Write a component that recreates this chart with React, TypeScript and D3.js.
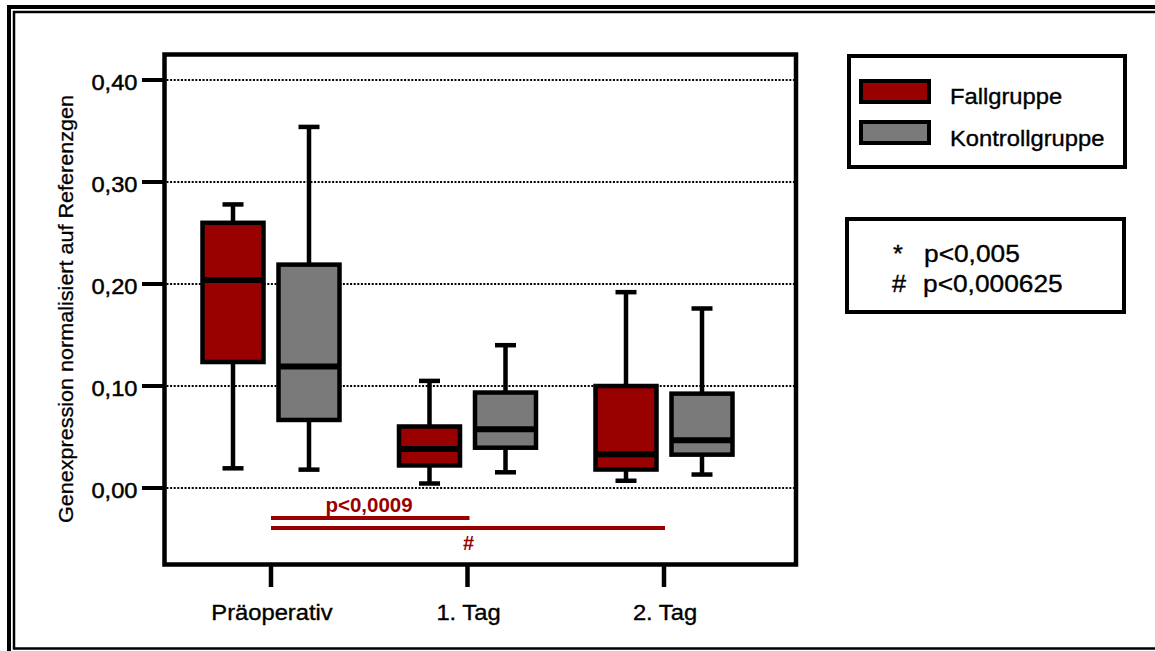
import React from "react";
import * as d3 from "d3";

// Zeitpunkte und Gruppen
const timepoints = ["Präoperativ", "1. Tag", "2. Tag"];
const groups = ["Fallgruppe", "Kontrollgruppe"];

// Boxplot-Kennwerte je Gruppe: [min, q1, median, q3, max] pro Zeitpunkt
const fallMin = [0.0193, 0.0044, 0.0071];
const fallQ1 = [0.1235, 0.0221, 0.0181];
const fallMedian = [0.204, 0.0382, 0.0331];
const fallQ3 = [0.26, 0.0603, 0.1];
const fallMax = [0.278, 0.105, 0.192];

const kontrollMin = [0.018, 0.0154, 0.0132];
const kontrollQ1 = [0.0667, 0.0395, 0.0327];
const kontrollMedian = [0.119, 0.0575, 0.0467];
const kontrollQ3 = [0.219, 0.0936, 0.0925];
const kontrollMax = [0.354, 0.14, 0.176];

const yTicks = [0, 0.1, 0.2, 0.3, 0.4];
const yTickLabels = ["0,00", "0,10", "0,20", "0,30", "0,40"];

const colors: Record<string, string> = {
  Fallgruppe: "#990000",
  Kontrollgruppe: "#7a7a7a",
};
const sigColor = "#990000";
const FONT = "'Liberation Sans', Arial, Helvetica, sans-serif";

type Stat = { min: number; q1: number; med: number; q3: number; max: number };

const stats: Record<string, Stat[]> = {
  Fallgruppe: timepoints.map((_, i) => ({
    min: fallMin[i], q1: fallQ1[i], med: fallMedian[i], q3: fallQ3[i], max: fallMax[i],
  })),
  Kontrollgruppe: timepoints.map((_, i) => ({
    min: kontrollMin[i], q1: kontrollQ1[i], med: kontrollMedian[i], q3: kontrollQ3[i], max: kontrollMax[i],
  })),
};

// Text mit leichter horizontaler Streckung und etwas kräftigerer Kontur
function Txt(props: {
  x: number; y: number; size: number; sx?: number; anchor?: string;
  fill?: string; weight?: string | number; halo?: number; children: React.ReactNode;
}) {
  const { x, y, size, sx = 1, anchor = "start", fill = "#000", weight = "normal", halo = 0.35, children } = props;
  return (
    <text
      transform={`translate(${x},${y}) scale(${sx},1)`}
      fontSize={size}
      fontFamily={FONT}
      textAnchor={anchor}
      fill={fill}
      stroke={fill}
      strokeWidth={halo}
      fontWeight={weight}
    >
      {children}
    </text>
  );
}

export default function App() {
  const W = 1155;
  const H = 651;
  const frame = { left: 164.5, right: 796, top: 54.5, bottom: 564.5 };

  const y = d3.scaleLinear().domain([-0.075, 0.425]).range([frame.bottom, frame.top]);
  const x = d3.scalePoint<string>().domain(timepoints).range([271, 664]);
  const offset = d3.scalePoint<string>().domain(groups).range([-38, 38]);
  const boxW = 61;
  const capW = 21;

  return (
    <svg
      width={W}
      height={H}
      viewBox={`0 0 ${W} ${H}`}
      style={{ position: "absolute", left: 0, top: 0, display: "block", background: "#fff" }}
    >
      <rect x={0} y={0} width={W} height={H} fill="#fff" />
      {/* doppelter Rahmen */}
      <rect x={9} y={7} width={W + 10} height={H + 10} fill="none" stroke="#000" strokeWidth={4} />
      <rect x={14} y={12} width={W + 10} height={636.5} fill="none" stroke="#000" strokeWidth={2.5} />

      {/* Gitterlinien */}
      {yTicks.map((t) => (
        <line
          key={`g${t}`}
          x1={frame.left + 2}
          x2={frame.right - 2}
          y1={y(t)}
          y2={y(t)}
          stroke="#000"
          strokeWidth={1.8}
          strokeDasharray="2 1.6"
        />
      ))}

      {/* Boxplots */}
      {groups.map((g) =>
        timepoints.map((tp, i) => {
          const s = stats[g][i];
          const cx = (x(tp) as number) + (offset(g) as number);
          return (
            <g key={`${g}-${tp}`}>
              <line x1={cx} x2={cx} y1={y(s.max)} y2={y(s.q3)} stroke="#000" strokeWidth={4.5} />
              <line x1={cx} x2={cx} y1={y(s.q1)} y2={y(s.min)} stroke="#000" strokeWidth={4.5} />
              <line x1={cx - capW / 2} x2={cx + capW / 2} y1={y(s.max)} y2={y(s.max)} stroke="#000" strokeWidth={4.5} />
              <line x1={cx - capW / 2} x2={cx + capW / 2} y1={y(s.min)} y2={y(s.min)} stroke="#000" strokeWidth={4.5} />
              <rect
                x={cx - boxW / 2}
                y={y(s.q3)}
                width={boxW}
                height={y(s.q1) - y(s.q3)}
                fill={colors[g]}
                stroke="#000"
                strokeWidth={4.5}
              />
              <line x1={cx - boxW / 2} x2={cx + boxW / 2} y1={y(s.med)} y2={y(s.med)} stroke="#000" strokeWidth={6} />
            </g>
          );
        })
      )}

      {/* Rahmen des Diagramms */}
      <rect
        x={frame.left}
        y={frame.top}
        width={frame.right - frame.left}
        height={frame.bottom - frame.top}
        fill="none"
        stroke="#000"
        strokeWidth={4.5}
      />

      {/* y-Achse */}
      {yTicks.map((t, i) => (
        <g key={`yt${t}`}>
          <line x1={142} x2={frame.left} y1={y(t)} y2={y(t)} stroke="#000" strokeWidth={4} />
          <Txt x={137.5} y={y(t) + 10} size={21.5} sx={1.1} anchor="end" halo={0.45}>
            {yTickLabels[i]}
          </Txt>
        </g>
      ))}
      <text
        transform={`translate(73,309) rotate(-90)`}
        fontSize={19.5}
        fontFamily={FONT}
        textAnchor="middle"
        textLength={428}
        lengthAdjust="spacingAndGlyphs"
        stroke="#000"
        strokeWidth={0.3}
      >
        Genexpression normalisiert auf Referenzgen
      </text>

      {/* x-Achse */}
      {timepoints.map((tp) => (
        <g key={`xt${tp}`}>
          <line x1={x(tp)} x2={x(tp)} y1={frame.bottom} y2={587} stroke="#000" strokeWidth={4.5} />
          <Txt x={(x(tp) as number) + 1} y={619.5} size={22} sx={1.08} anchor="middle">
            {tp}
          </Txt>
        </g>
      ))}

      {/* Signifikanzbalken */}
      <line
        x1={x(timepoints[0])}
        x2={(x(timepoints[1]) as number) + 2}
        y1={y(-0.0294)}
        y2={y(-0.0294)}
        stroke={sigColor}
        strokeWidth={4}
      />
      <line
        x1={x(timepoints[0])}
        x2={(x(timepoints[2]) as number) + 1}
        y1={y(-0.0392)}
        y2={y(-0.0392)}
        stroke={sigColor}
        strokeWidth={4}
      />
      <Txt x={369} y={511.5} size={20.5} anchor="middle" fill={sigColor} weight="bold" halo={0}>
        p&lt;0,0009
      </Txt>
      <Txt x={468.5} y={550} size={20} anchor="middle" fill={sigColor} weight="bold" halo={0}>
        #
      </Txt>

      {/* Legende */}
      <rect x={849} y={56} width={276} height={111} fill="#fff" stroke="#000" strokeWidth={4} />
      {groups.map((g, i) => (
        <g key={`lg${g}`}>
          <rect x={861} y={81 + i * 41} width={68} height={21} fill={colors[g]} stroke="#000" strokeWidth={4} />
          <Txt x={950} y={104 + i * 42} size={22} sx={1.08}>
            {g}
          </Txt>
        </g>
      ))}

      {/* Signifikanzniveaus */}
      <rect x={847} y={219} width={277} height={93} fill="#fff" stroke="#000" strokeWidth={4} />
      <Txt x={893} y={262} size={23} sx={1.1}>*</Txt>
      <Txt x={924} y={262} size={23.5} sx={1.12}>p&lt;0,005</Txt>
      <Txt x={892} y={292} size={23} sx={1.1}>#</Txt>
      <Txt x={923} y={292} size={23.5} sx={1.12}>p&lt;0,000625</Txt>
    </svg>
  );
}
